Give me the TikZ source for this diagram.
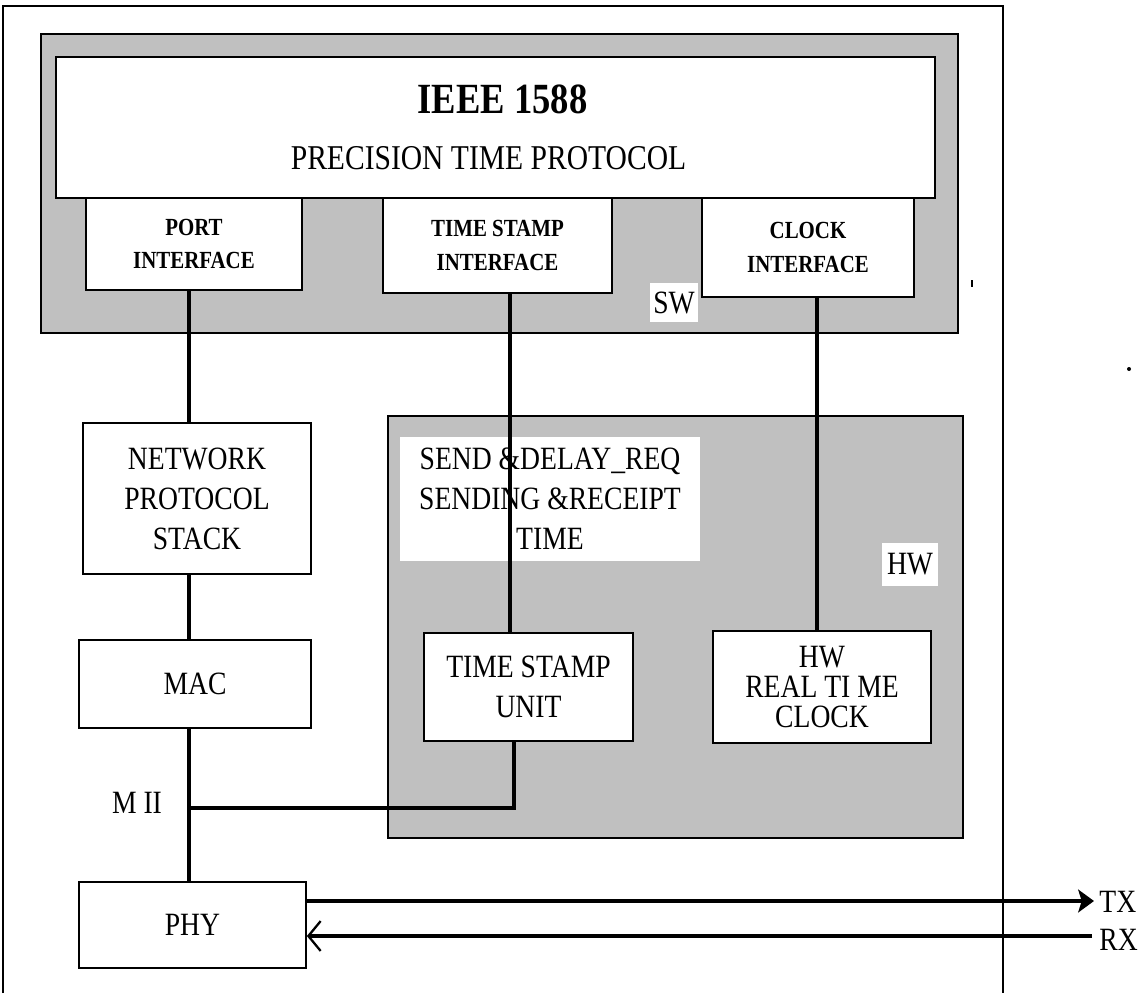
\documentclass[tikz,border=0pt]{standalone}
\usepackage{fontspec}
\setmainfont[FakeStretch=0.85]{Liberation Serif}
\usepackage{xcolor}
\usetikzlibrary{arrows.meta}
\definecolor{szary}{RGB}{192,192,192}

\begin{document}
\begin{tikzpicture}[x=0.02cm, y=-0.02cm,
	blok/.style={draw, line width=1pt, fill=white, align=center, inner sep=0pt, font=\fontsize{18.5}{22.8}\selectfont},
	interfejs/.style={blok, font=\bfseries\fontsize{14}{19}\selectfont},
	obszar/.style={draw, line width=1pt, fill=szary, inner sep=0pt},
	etykieta/.style={fill=white, inner sep=0pt, align=center, font=\fontsize{18.5}{22.8}\selectfont},
	polaczenie/.style={line width=2.4pt}]
	\useasboundingbox (0,0) rectangle (1141,993);

	% Ramka
	\draw[line width=0.8pt] (3,993) -- (3,6) -- (1003,6) -- (1003,993);

	% Warstwa SW
	\node[obszar, minimum width=18.34cm, minimum height=5.98cm] (sw) at (499.5,183.5) {};
	\node[blok, minimum width=17.58cm, minimum height=2.82cm] (ptp) at (495.5,127.5)
		{\hspace*{0.28cm}{\bfseries\fontsize{24.5}{28}\selectfont IEEE 1588}\\[9pt] {\fontsize{19.8}{24}\selectfont PRECISION TIME PROTOCOL}\hspace*{0.28cm}};
	\node[interfejs, minimum width=4.32cm, minimum height=1.84cm] (port) at (194,244) {PORT\\INTERFACE};
	\node[interfejs, minimum width=4.58cm, minimum height=1.9cm] (tsi) at (497.5,245.5) {TIME STAMP\\INTERFACE};
	\node[interfejs, minimum width=4.24cm, minimum height=1.98cm] (cki) at (808,247.5) {CLOCK\\INTERFACE};
	\node[etykieta, minimum width=0.96cm, minimum height=0.78cm] (swlab) at (674,302.5) {SW};

	% Warstwa HW
	\node[obszar, minimum width=11.5cm, minimum height=8.44cm] (hw) at (675.5,627) {};
	\node[etykieta, minimum width=6cm, minimum height=2.48cm] (send) at (550,499)
		{SEND \&DELAY\_REQ\\SENDING \&RECEIPT\\TIME};
	\node[etykieta, minimum width=1.12cm, minimum height=0.86cm] (hwlab) at (910,564.5) {HW};
	\node[blok, minimum width=4.18cm, minimum height=2.16cm] (tsu) at (528.5,687) {TIME STAMP\\UNIT};
	\node[blok, minimum width=4.36cm, minimum height=2.24cm, font=\fontsize{18.5}{16.8}\selectfont] (rtc) at (822,687) {HW\\REAL TI ME\\CLOCK};

	% Stos sieciowy
	\node[blok, minimum width=4.56cm, minimum height=3.02cm] (nps) at (197,498.5) {NETWORK\\PROTOCOL\\STACK};
	\node[blok, minimum width=4.64cm, minimum height=1.76cm] (mac) at (195,684) {MAC};
	\node[blok, minimum width=4.54cm, minimum height=1.72cm] (phy) at (192.5,925) {PHY};
	\node[font=\fontsize{18.5}{22.8}\selectfont] (miilab) at (137,803) {M II};

	% Polaczenia
	\coordinate (bus) at (189,0);
	\coordinate (tsline) at (510,0);
	\coordinate (ckline) at (817,0);
	\coordinate (tsuline) at (514,0);
	\coordinate (mii) at (189,808);
	\draw[polaczenie] (port.south -| bus) -- (nps.north -| bus);
	\draw[polaczenie] (nps.south -| bus) -- (mac.north -| bus);
	\draw[polaczenie] (mac.south -| bus) -- (phy.north -| bus);
	\draw[polaczenie] (tsi.south -| tsline) -- (tsu.north -| tsline);
	\draw[polaczenie] (cki.south -| ckline) -- (rtc.north -| ckline);
	\draw[polaczenie] (tsu.south -| tsuline) |- (mii);

	% TX / RX
	\coordinate (txend) at (1094,901);
	\coordinate (rxstart) at (1092,936);
	\draw[polaczenie, -{Stealth[length=9pt, width=13pt, inset=2pt]}] (phy.east |- txend) -- (txend);
	\draw[polaczenie, -{Straight Barb[length=7pt, width=17pt, line width=1.3pt]}] (rxstart) -- (phy.east |- rxstart);
	\node[anchor=west, inner sep=0pt, font=\fontsize{18.5}{22.8}\selectfont] (tx) at (1099,902) {TX};
	\node[anchor=west, inner sep=0pt, font=\fontsize{18.5}{22.8}\selectfont] (rx) at (1099,940) {RX};

	% Drobne znaki
	\fill (971,280) rectangle (973,287);
	\fill (1129,369) circle (2);
\end{tikzpicture}
\end{document}
